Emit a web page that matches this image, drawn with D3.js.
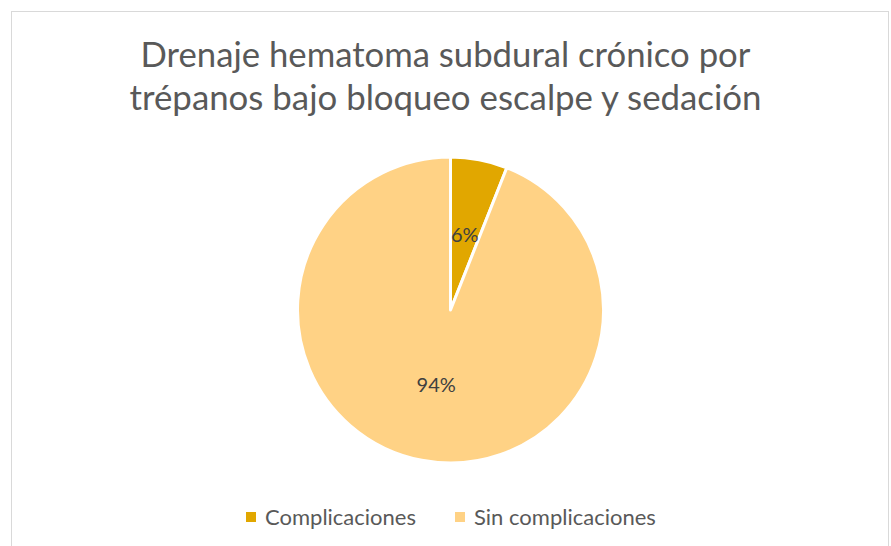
<!DOCTYPE html>
<html>
<head>
<meta charset="utf-8">
<script src="https://cdn.jsdelivr.net/npm/d3@7"></script>
<style>
  body { margin: 0; background: #fff; }
  text { font-family: Lato, "Open Sans", sans-serif; fill: #595959; }
</style>
</head>
<body>
<div id="chart-area"></div>
<script>
// data
const categories = ["Complicaciones", "Sin complicaciones"];
const values = [6, 94];
const colors = ["#E1A700", "#FFD285"];
const titleLines = ["Drenaje hematoma subdural crónico por", "trépanos bajo bloqueo escalpe y sedación"];

const width = 891, height = 546;
const cx = 450.5, cy = 310, radius = 153;

const svg = d3.select("#chart-area")
  .append("svg")
  .attr("width", width)
  .attr("height", height);

// chart border
svg.append("rect")
  .attr("x", 11.5).attr("y", 11.5)
  .attr("width", 877).attr("height", 560)
  .attr("fill", "#fff")
  .attr("stroke", "#d9d9d9")
  .attr("stroke-width", 1);

// title, fit each line to the reference width
const titleWidths = [610, 632];
svg.selectAll(".title").data(titleLines).enter().append("text")
  .attr("class", "title")
  .attr("x", width / 2)
  .attr("y", (d, i) => 67 + i * 43)
  .attr("text-anchor", "middle")
  .attr("font-size", "31px")
  .text(d => d)
  .each(function(d, i) {
    const w = this.getComputedTextLength();
    d3.select(this).attr("font-size", (31 * titleWidths[i] / w).toFixed(2) + "px");
  });

const pie = d3.pie().sort(null).value(d => d);
const arc = d3.arc().innerRadius(0).outerRadius(radius);
const arcs = pie(values);

const g = svg.append("g").attr("transform", `translate(${cx},${cy})`);

g.selectAll("path").data(arcs).enter().append("path")
  .attr("d", arc)
  .attr("fill", (d, i) => colors[i])
  .attr("stroke", "#fff")
  .attr("stroke-width", 3)
  .attr("stroke-linejoin", "round");

g.selectAll(".lbl").data(arcs).enter().append("text")
  .attr("class", "lbl")
  .attr("transform", d => `translate(${arc.centroid(d)})`)
  .attr("text-anchor", "middle")
  .attr("dy", "0.35em")
  .attr("font-size", "20px")
  .style("fill", "#404040")
  .text(d => d.data + "%");

// legend
const legendX = [246, 455];
const legend = svg.selectAll(".legend").data(categories).enter().append("g")
  .attr("class", "legend")
  .attr("transform", (d, i) => `translate(${legendX[i]},517)`);

legend.append("rect")
  .attr("x", 0).attr("y", -5)
  .attr("width", 10).attr("height", 10)
  .attr("fill", (d, i) => colors[i]);

legend.append("text")
  .attr("x", 19)
  .attr("dy", "0.35em")
  .attr("font-size", "22px")
  .text(d => d);
</script>
</body>
</html>
